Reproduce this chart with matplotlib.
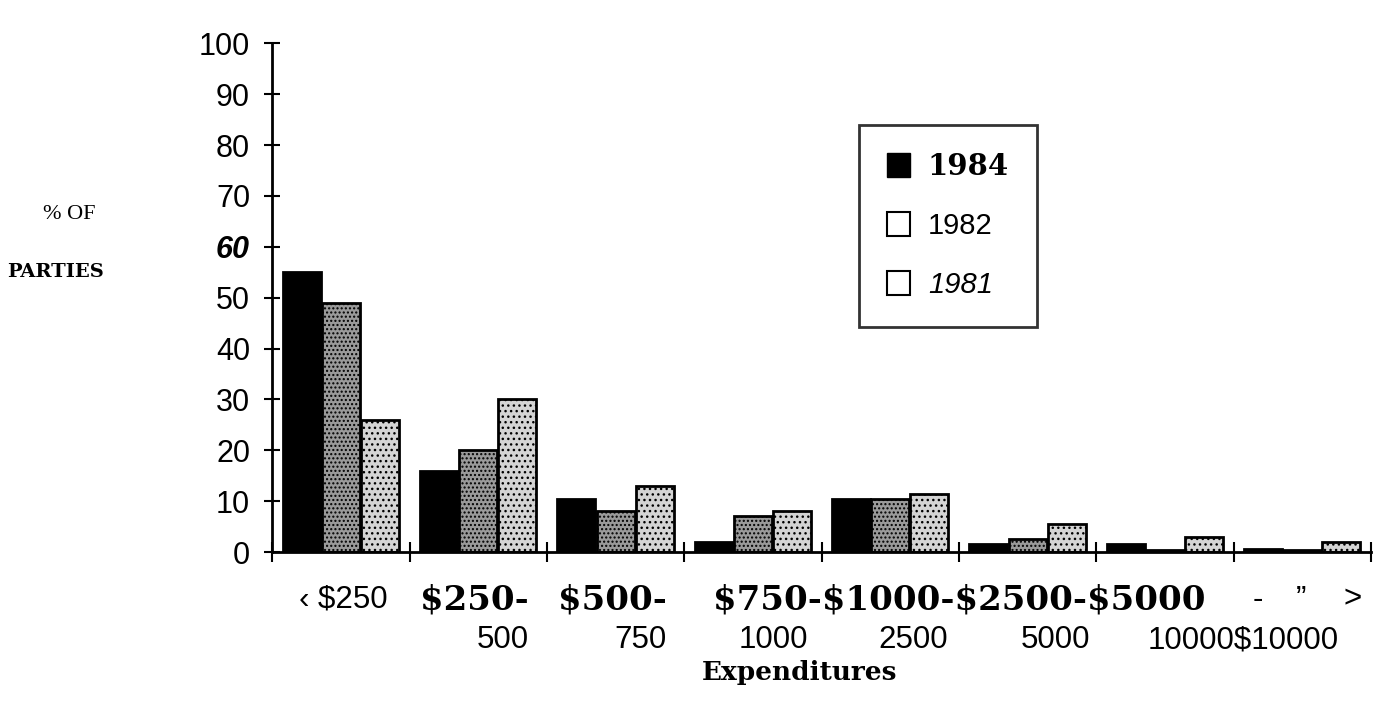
import matplotlib.pyplot as plt
import matplotlib.patches as mpatches
import numpy as np

plt.rcParams["text.parse_math"] = False
plt.rcParams["hatch.color"] = "black"

# data
categories = ["< $250", "$250-500", "$500-750", "$750-1000",
              "$1000-2500", "$2500-5000", "$5000-10000", "> $10000"]
years = ["1984", "1982", "1981"]
pct_1984 = [55, 16, 10.5, 2, 10.5, 1.5, 1.5, 0.5]
pct_1982 = [49, 20, 8, 7, 10.5, 2.5, 0.3, 0.3]
pct_1981 = [26, 30, 13, 8, 11.5, 5.5, 3, 2]
yticks = [0, 10, 20, 30, 40, 50, 60, 70, 80, 90, 100]

fig = plt.figure(figsize=(13.75, 7.1), dpi=100)
ax = fig.add_axes([0.198, 0.2225, 0.799, 0.7165])

x = np.arange(len(categories))
w = 0.285
styles = [
    dict(color="black", hatch=None),
    dict(color="#9a9a9a", hatch="...."),
    dict(color="#d4d4d4", hatch="..."),
]
for off, vals, st in zip([-w, 0, w], [pct_1984, pct_1982, pct_1981], styles):
    ax.bar(x + off, vals, width=w * 0.97, facecolor=st["color"], edgecolor="black",
           linewidth=2, hatch=st["hatch"])

ax.set_xlim(-0.5, len(categories) - 0.5)
ax.set_ylim(0, 100)
ax.spines["top"].set_visible(False)
ax.spines["right"].set_visible(False)
ax.spines["left"].set_linewidth(2)
ax.spines["bottom"].set_linewidth(2)

ax.set_yticks(yticks)
ax.set_yticklabels([str(v) for v in yticks], family="Liberation Sans", fontsize=22)
for lab in ax.get_yticklabels():
    if lab.get_text() == "60":
        lab.set_fontweight("bold")
        lab.set_fontstyle("italic")
ax.tick_params(axis="y", direction="inout", length=12, width=1.5, pad=10)
ax.set_xticks(np.arange(len(categories) + 1) - 0.5)
ax.set_xticklabels([])
ax.tick_params(axis="x", direction="inout", length=14, width=1.5)

# x tick labels, two lines as in the original print
serif = dict(family="DejaVu Serif", fontweight="bold", fontsize=24.5)
sans = dict(family="Liberation Sans", fontsize=22.5)
tr = ax.get_xaxis_transform()
y1, y2 = -0.094, -0.173
ax.text(0.017, y1, "‹ $250", ha="center", va="center", transform=tr, **sans)
ax.text(0.97, y1, "$250-", ha="center", va="center", transform=tr, **serif)
ax.text(1.98, y1, "$500-", ha="center", va="center", transform=tr, **serif)
ax.text(4.5, y1, "$750-$1000-$2500-$5000", ha="center", va="center", transform=tr, **serif)
ax.text(6.68, y1, "-", ha="center", va="center", transform=tr, **sans)
ax.text(6.99, y1, "\u201d", ha="center", va="center", transform=tr, **sans)
ax.text(7.37, y1, ">", ha="center", va="center", transform=tr, **sans)
for xp, s in zip([1.18, 2.18, 3.15, 4.17, 5.2], ["500", "750", "1000", "2500", "5000"]):
    ax.text(xp, y2, s, ha="center", va="center", transform=tr, **sans)
ax.text(6.57, y2, "10000$10000", ha="center", va="center", transform=tr, **sans)

ax.text(0.48, -0.236, "Expenditures", ha="center", va="center", transform=ax.transAxes,
        family="DejaVu Serif", fontweight="bold", fontsize=19)

fig.text(43 / 1375, 1 - 214 / 710, "% OF", ha="left", va="center", family="Liberation Serif",
         fontsize=16)
fig.text(7 / 1375, 1 - 272 / 710, "PARTIES", ha="left", va="center", family="DejaVu Serif",
         fontweight="bold", fontsize=14)

handles = [
    mpatches.Patch(facecolor="black", edgecolor="black"),
    mpatches.Patch(facecolor="white", edgecolor="black", linewidth=1.5),
    mpatches.Patch(facecolor="white", edgecolor="black", linewidth=1.5),
]
leg = ax.legend(handles, years, loc="upper left", bbox_to_anchor=(0.521, 0.869),
                fontsize=21, frameon=True, fancybox=False, edgecolor="black",
                handlelength=0.8, handleheight=0.9, handletextpad=0.6,
                labelspacing=1.05, borderpad=0.95)
leg.get_frame().set_linewidth(2)
t84, t82, t81 = leg.get_texts()
t84.set_family("DejaVu Serif")
t84.set_fontweight("bold")
t82.set_family("Liberation Sans")
t81.set_family("Liberation Sans")
t81.set_fontstyle("italic")

fig.savefig("out.png", dpi=100)
